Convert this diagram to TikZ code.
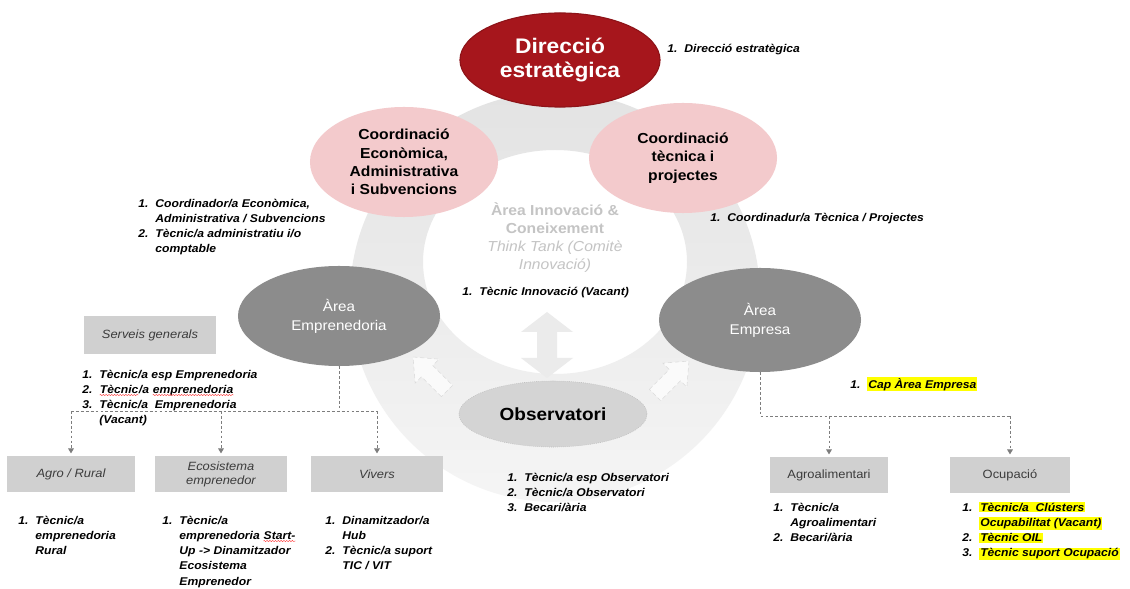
\documentclass[tikz,border=0pt]{standalone}
\usepackage{fontspec}
\setmainfont{Liberation Sans}[FakeStretch=1.08]
\usepackage{tikz}
\usetikzlibrary{shapes.geometric,arrows.meta,decorations.pathmorphing}

\definecolor{dirred}{RGB}{166,22,28}
\definecolor{coorpink}{RGB}{243,202,204}
\definecolor{areagrey}{RGB}{140,140,140}
\definecolor{obsgrey}{RGB}{212,212,212}
\definecolor{boxgrey}{RGB}{208,208,208}
\definecolor{innogrey}{RGB}{196,196,196}
\definecolor{boxtext}{RGB}{60,60,60}
\definecolor{connline}{RGB}{125,125,125}
\definecolor{hlyellow}{RGB}{255,255,0}

\newcommand{\hlt}[1]{{\setlength{\fboxsep}{0.6pt}\colorbox{hlyellow}{#1}}}
\newcommand{\llist}[1]{\begin{tabular}{@{}l@{\hspace{5pt}}l@{}}#1\end{tabular}}
\newcommand{\redwave}[1]{\tikz[baseline=(w.base)]{\node[inner sep=0pt, anchor=base] (w) {#1};
  \draw[red!75, line width=0.3pt, decorate, decoration={snake, amplitude=0.45pt, segment length=2pt}]
    ([yshift=-1.2pt]w.base west) -- ([yshift=-1.2pt]w.base east);}}

\tikzset{
  dirnode/.style={ellipse, fill=dirred, draw=dirred!85!black, line width=0.8pt, text=white,
    font=\bfseries\fontsize{15}{17}\selectfont, align=center, inner sep=0pt,
    minimum width=5cm, minimum height=2.35cm},
  coord/.style={ellipse, fill=coorpink, font=\bfseries\fontsize{10.3}{13}\selectfont,
    align=center, inner sep=0pt, minimum width=4.7cm, minimum height=2.75cm},
  area/.style={ellipse, fill=areagrey, text=white, font=\fontsize{10}{13.5}\selectfont,
    align=center, inner sep=0pt, minimum width=5.05cm, minimum height=2.5cm},
  obsnode/.style={ellipse, fill=obsgrey, draw=gray!55, densely dotted,
    font=\bfseries\fontsize{12.5}{14}\selectfont, inner sep=0pt,
    minimum width=4.7cm, minimum height=1.65cm},
  unitbox/.style={rectangle, fill=boxgrey, text=boxtext, align=center, inner sep=0pt,
    font=\fontsize{8.5}{10}\selectfont, minimum height=0.875cm},
  lst/.style={anchor=north west, inner sep=0pt, font=\bfseries\itshape\fontsize{8}{10.9}\selectfont},
  conn/.style={connline, dash pattern=on 2pt off 1.5pt, line width=0.7pt},
  connarrow/.style={conn, -{Triangle[width=4pt,length=3.5pt]}, shorten >=2pt},
}

\begin{document}
\begin{tikzpicture}[x=0.025cm, y=-0.025cm]
\fill[white] (0,0) rectangle (1130,589);
\useasboundingbox (0,0) rectangle (1130,589);

% cycle ring
\path[top color=gray!22, bottom color=gray!8, even odd rule]
  (555,297) circle [radius=205] (555,262) ellipse [x radius=132, y radius=112];

% arrows inside the ring
\begin{scope}[shift={(547,345)}]
\fill[gray!16] (0,-33) -- (26,-13) -- (10,-13) -- (10,13) -- (26,13) -- (0,33)
  -- (-26,13) -- (-10,13) -- (-10,-13) -- (-26,-13) -- cycle;
\end{scope}
\begin{scope}[shift={(430,374)}, rotate=135]
\draw[gray!28, densely dashed, fill=gray!4] (-24,-8) -- (4,-8) -- (4,-17) -- (24,0)
  -- (4,17) -- (4,8) -- (-24,8) -- cycle;
\end{scope}
\begin{scope}[shift={(672,378)}, rotate=45]
\draw[gray!28, densely dashed, fill=gray!4] (-24,-8) -- (4,-8) -- (4,-17) -- (24,0)
  -- (4,17) -- (4,8) -- (-24,8) -- cycle;
\end{scope}

% ellipses
\node[dirnode] (dir) at (560,60) {Direcció\\estratègica};
\node[coord] (coe) at (404,162) {Coordinació\\Econòmica,\\Administrativa\\i Subvencions};
\node[coord] (cot) at (683,158) {Coordinació\\tècnica i\\projectes};
\node[area] (emp) at (339,316) {Àrea\\Emprenedoria};
\node[area, minimum height=2.6cm] (ems) at (760,320) {Àrea\\Empresa};
\node[obsnode] (obs) at (553,414) {Observatori};

\node[align=center, text=innogrey, font=\bfseries\fontsize{10.3}{12.8}\selectfont] (inn) at (555,238)
  {Àrea Innovació \&\\Coneixement\\{\mdseries\itshape Think Tank (Comitè}\\{\mdseries\itshape Innovació)}};

% boxes
\node[unitbox, font=\itshape\fontsize{8.5}{10}\selectfont, minimum width=3.3cm, minimum height=0.93cm] (serv) at (150,335) {Serveis generals};
\node[unitbox, font=\itshape\fontsize{8.5}{10}\selectfont, minimum width=3.2cm] (agro) at (71,474) {Agro / Rural};
\node[unitbox, font=\itshape\fontsize{8.5}{10}\selectfont, minimum width=3.3cm] (eco) at (221,474) {Ecosistema\\emprenedor};
\node[unitbox, font=\itshape\fontsize{8.5}{10}\selectfont, minimum width=3.3cm] (viv) at (377,474) {Vivers};
\node[unitbox, minimum width=2.95cm] (agal) at (829,475) {Agroalimentari};
\node[unitbox, minimum width=2.98cm] (ocu) at (1010,475) {Ocupació};

% connectors
\coordinate (empjoin) at (339,411);
\coordinate (emsjoin) at (760,416);
\draw[conn] (emp.south) -- (empjoin);
\draw[conn] (agro.north |- empjoin) -- (viv.north |- empjoin);
\foreach \b in {agro,eco,viv}
  \draw[connarrow] (\b.north |- empjoin) -- (\b.north);
\draw[conn] (ems.south) -- (emsjoin) -- (ocu.north |- emsjoin);
\foreach \b in {agal,ocu}
  \draw[connarrow] (\b.north |- emsjoin) -- (\b.north);

% task lists
\node[lst] (ldir) at (667,41) {\llist{1. & Direcció estratègica}};
\node[lst] (lcoe) at (138,196) {\llist{1. & Coordinador/a Econòmica,\\ & Administrativa / Subvencions\\2. & Tècnic/a administratiu i/o\\ & comptable}};
\node[lst] (lcot) at (710,210) {\llist{1. & Coordinadur/a Tècnica / Projectes}};
\node[lst] (linn) at (462,284) {\llist{1. & Tècnic Innovació (Vacant)}};
\node[lst] (lemp) at (82,367) {\llist{1. & Tècnic/a esp Emprenedoria\\2. & \redwave{Tècnic}/a \redwave{emprenedoria}\\3. & Tècnic/a \ Emprenedoria\\ & (Vacant)}};
\node[lst] (lems) at (850,377) {\llist{1. & \hlt{Cap Àrea Empresa}}};
\node[lst] (lobs) at (507,470) {\llist{1. & Tècnic/a esp Observatori\\2. & Tècnic/a Observatori\\3. & Becari/ària}};
\node[lst] (lagro) at (18,513) {\llist{1. & Tècnic/a\\ & emprenedoria\\ & Rural}};
\node[lst] (leco) at (162,513) {\llist{1. & Tècnic/a\\ & emprenedoria \redwave{Start-}\\ & Up -> Dinamitzador\\ & Ecosistema\\ & Emprenedor}};
\node[lst] (lviv) at (325,513) {\llist{1. & Dinamitzador/a\\ & Hub\\2. & Tècnic/a suport\\ & TIC / VIT}};
\node[lst] (lagal) at (773,500) {\llist{1. & Tècnic/a\\ & Agroalimentari\\2. & Becari/ària}};
\node[lst] (locu) at (962,500) {\llist{1. & \hlt{Tècnic/a \ Clústers}\\ & \hlt{Ocupabilitat (Vacant)}\\2. & \hlt{Tècnic OIL}\\3. & \hlt{Tècnic suport Ocupació}}};
\end{tikzpicture}
\end{document}
